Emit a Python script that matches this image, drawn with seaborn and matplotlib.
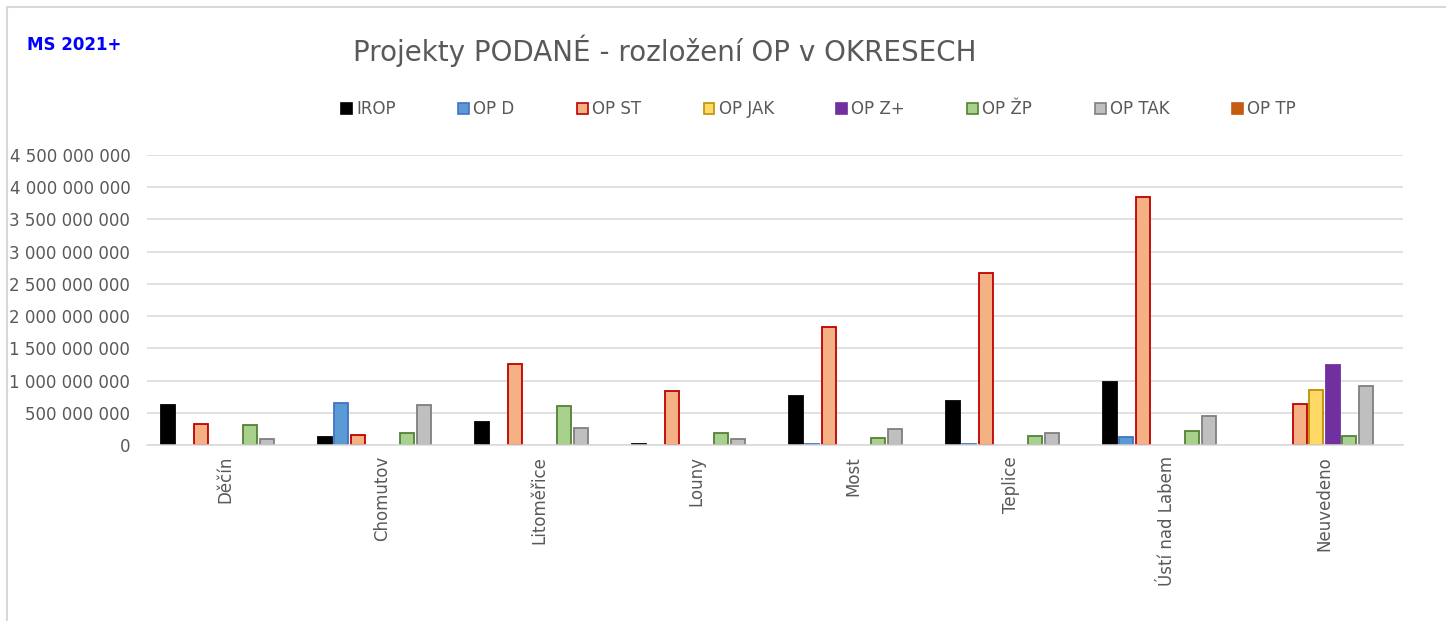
import numpy as np
import pandas as pd
import seaborn as sns
import matplotlib
matplotlib.use("Agg")
import matplotlib.pyplot as plt
from matplotlib.patches import Patch
from matplotlib.lines import Line2D
from matplotlib.ticker import FuncFormatter, MultipleLocator
import matplotlib.colors as mcolors

# Districts (okresy) on the x axis
districts = ["Děčín", "Chomutov", "Litoměřice", "Louny", "Most",
             "Teplice", "Ústí nad Labem", "Neuvedeno"]

# Operational programmes (series)
programmes = ["IROP", "OP D", "OP ST", "OP JAK", "OP Z+", "OP ŽP", "OP TAK", "OP TP"]

# Submitted project volume in CZK per programme and district (None = no projects)
irop   = [621e6, 124e6, 362e6, 16e6, 755e6, 683e6, 978e6, None]
op_d   = [None, 652e6, None, None, 20e6, 20e6, 119e6, None]
op_st  = [326e6, 155e6, 1257e6, 838e6, 1826e6, 2664e6, 3853e6, 641e6]
op_jak = [None, None, None, None, None, None, None, 849e6]
op_z   = [None, None, None, None, None, None, None, 1241e6]
op_zp  = [304e6, 186e6, 600e6, 186e6, 104e6, 145e6, 222e6, 145e6]
op_tak = [87e6, 621e6, 258e6, 87e6, 243e6, 191e6, 455e6, 911e6]
op_tp  = [None, None, None, None, None, None, None, None]

series = [irop, op_d, op_st, op_jak, op_z, op_zp, op_tak, op_tp]

fill_colors = ["#000000", "#5B9BD5", "#F4B183", "#FFD966",
               "#7030A0", "#A9D18E", "#BFBFBF", "#C55A11"]
edge_colors = ["#000000", "#4472C4", "#C00000", "#BF9000",
               "#7030A0", "#548235", "#7F7F7F", "#C55A11"]

rows = []
for prog, vals in zip(programmes, series):
    for dist, v in zip(districts, vals):
        if v is not None:
            rows.append({"okres": dist, "program": prog, "value": v})
df = pd.DataFrame(rows)

sns.set_theme(style="white")
plt.rcParams["font.family"] = ["DejaVu Sans"]

text_gray = "#595959"
grid_gray = "#D9D9D9"

fig = plt.figure(figsize=(14.46, 6.21), dpi=100)
ax = fig.add_axes([147 / 1446, 1 - 445 / 621, (1403 - 147) / 1446, (445 - 155) / 621])

palette = dict(zip(programmes, fill_colors))
sns.barplot(data=df, x="okres", y="value", hue="program",
            order=districts, hue_order=programmes, palette=palette,
            saturation=1, width=0.84, gap=0.15, errorbar=None,
            linewidth=1.3, legend=False, ax=ax)

# Outline colour per programme, matched through the fill colour
fill_to_edge = {mcolors.to_hex(f): e for f, e in zip(fill_colors, edge_colors)}
for patch in ax.patches:
    fc = mcolors.to_hex(patch.get_facecolor())
    patch.set_edgecolor(fill_to_edge.get(fc, fc))

ax.set_xlim(-0.5, len(districts) - 0.5)
ax.set_ylim(0, 4.5e9)
ax.yaxis.set_major_locator(MultipleLocator(5e8))
ax.yaxis.set_major_formatter(FuncFormatter(lambda v, _: f"{int(round(v)):,}".replace(",", " ")))
ax.grid(axis="y", color=grid_gray, linewidth=1.1)
ax.set_axisbelow(True)
for side in ["top", "right", "left"]:
    ax.spines[side].set_visible(False)
ax.spines["bottom"].set_color(grid_gray)
ax.spines["bottom"].set_linewidth(1.1)
ax.set_xlabel("")
ax.set_ylabel("")
ax.tick_params(axis="y", length=0, pad=12, labelsize=12, labelcolor=text_gray)
ax.tick_params(axis="x", length=0, pad=8, labelsize=12, labelcolor=text_gray)
for lbl in ax.get_xticklabels():
    lbl.set_rotation(90)
    lbl.set_va("top")

# Legend row
handles = [Patch(facecolor=f, edgecolor=e, linewidth=1.2)
           for f, e in zip(fill_colors, edge_colors)]
leg = fig.legend(handles, programmes, loc="center", bbox_to_anchor=(0.566, 0.8245),
                 ncol=8, frameon=False, fontsize=12, handlelength=0.65,
                 handleheight=0.65, handletextpad=0.25, columnspacing=3.75)
for t in leg.get_texts():
    t.set_color(text_gray)

# Titles
fig.text(0.46, 0.919, "Projekty PODANÉ - rozložení OP v OKRESECH",
         ha="center", va="center", fontsize=20, color=text_gray)
fig.text(27 / 1446, 0.9275, "MS 2021+", ha="left", va="center",
         fontsize=12, fontweight="bold", color="#0000FF")

# Chart frame (top and left edges)
fig.add_artist(Line2D([7 / 1446, 7 / 1446], [0, 1 - 7 / 621], color=grid_gray, linewidth=1.5))
fig.add_artist(Line2D([7 / 1446, 1], [1 - 7 / 621, 1 - 7 / 621], color=grid_gray, linewidth=1.5))

fig.savefig("out.png", dpi=100, facecolor="white")
